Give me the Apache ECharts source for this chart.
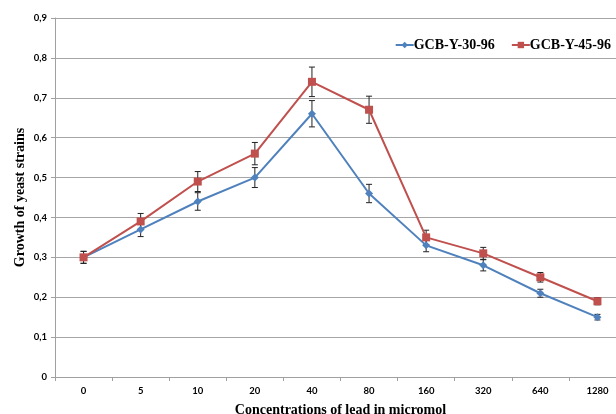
<!DOCTYPE html>
<html>
<head>
<meta charset="utf-8">
<script src="https://cdn.jsdelivr.net/npm/echarts@6/dist/echarts.min.js"></script>
<style>
  html, body { margin: 0; padding: 0; background: #fff; }
  #chart { width: 616px; height: 414px; }
</style>
</head>
<body>
<div id="chart"></div>
<script>
// Lead concentrations (micromol) on the category axis
const concentrations = ['0', '5', '10', '20', '40', '80', '160', '320', '640', '1280'];

// Yeast growth per strain
const growth3096 = [0.30, 0.37, 0.44, 0.50, 0.66, 0.46, 0.33, 0.28, 0.21, 0.15];
const growth4596 = [0.30, 0.39, 0.49, 0.56, 0.74, 0.67, 0.35, 0.31, 0.25, 0.19];

// Standard error for each measurement
const err3096 = [0.015, 0.018, 0.022, 0.025, 0.033, 0.023, 0.016, 0.014, 0.010, 0.007];
const err4596 = [0.015, 0.020, 0.025, 0.028, 0.037, 0.034, 0.018, 0.015, 0.012, 0.009];

const yTicks = [0, 0.1, 0.2, 0.3, 0.4, 0.5, 0.6, 0.7, 0.8, 0.9];

const BLUE = '#4f81bd';
const RED = '#c0504d';
const labelFont = 'Lato, "Liberation Sans", sans-serif';
const titleFont = '"Liberation Serif", "DejaVu Serif", serif';

function errorSeries(values, errors) {
  return {
    type: 'custom',
    z: 1,
    silent: true,
    data: values.map((v, i) => [i, v - errors[i], v + errors[i]]),
    renderItem: function (params, api) {
      const lo = api.coord([api.value(0), api.value(1)]);
      const hi = api.coord([api.value(0), api.value(2)]);
      const cap = 3;
      const style = { stroke: '#222', lineWidth: 1 };
      return {
        type: 'group',
        children: [
          { type: 'line', shape: { x1: lo[0], y1: lo[1], x2: hi[0], y2: hi[1] }, style },
          { type: 'line', shape: { x1: lo[0] - cap, y1: lo[1], x2: lo[0] + cap, y2: lo[1] }, style },
          { type: 'line', shape: { x1: hi[0] - cap, y1: hi[1], x2: hi[0] + cap, y2: hi[1] }, style }
        ]
      };
    }
  };
}

const chart = echarts.init(document.getElementById('chart'), null, { renderer: 'canvas' });

chart.setOption({
  animation: false,
  backgroundColor: '#fff',
  grid: { left: 55, top: 18, width: 571, height: 359, outerBoundsMode: 'none', containLabel: false },
  legend: {
    top: 33,
    right: 0,
    itemWidth: 18,
    itemHeight: 8,
    itemGap: 16,
    data: ['GCB-Y-30-96', 'GCB-Y-45-96'],
    textStyle: { fontFamily: titleFont, fontWeight: 'bold', fontSize: 14, color: '#000', padding: [0, 0, 0, -5] }
  },
  xAxis: {
    type: 'category',
    data: concentrations,
    boundaryGap: true,
    name: 'Concentrations of lead in micromol',
    nameLocation: 'middle',
    nameGap: 26,
    nameMoveOverlap: false,
    nameTextStyle: { fontFamily: titleFont, fontWeight: 'bold', fontSize: 14, color: '#000' },
    axisLine: { lineStyle: { color: '#a0a0a0', width: 1 } },
    axisTick: { show: true, length: 4, lineStyle: { color: '#a0a0a0' } },
    axisLabel: { margin: 9, fontFamily: labelFont, fontWeight: 'bold', fontSize: 9.5, color: '#000' },
    splitLine: { show: false }
  },
  yAxis: {
    type: 'value',
    min: yTicks[0],
    max: yTicks[yTicks.length - 1],
    interval: 0.1,
    name: 'Growth of yeast strains',
    nameLocation: 'middle',
    nameGap: 28,
    nameMoveOverlap: false,
    nameRotate: 90,
    nameTextStyle: { fontFamily: titleFont, fontWeight: 'bold', fontSize: 14, color: '#000' },
    axisLine: { show: true, lineStyle: { color: '#a0a0a0', width: 1 } },
    axisTick: { show: true, length: 4, lineStyle: { color: '#a0a0a0' } },
    axisLabel: {
      margin: 8,
      fontFamily: labelFont, fontWeight: 'bold', fontSize: 9.5, color: '#000',
      formatter: v => (Math.round(v * 10) / 10).toString().replace('.', ',')
    },
    splitLine: { lineStyle: { color: '#a6a6a6', width: 1 } }
  },
  series: [
    errorSeries(growth3096, err3096),
    errorSeries(growth4596, err4596),
    {
      name: 'GCB-Y-30-96',
      type: 'line',
      z: 3,
      data: growth3096,
      symbol: 'diamond',
      symbolSize: 8,
      lineStyle: { color: BLUE, width: 2 },
      itemStyle: { color: BLUE }
    },
    {
      name: 'GCB-Y-45-96',
      type: 'line',
      z: 4,
      data: growth4596,
      symbol: 'rect',
      symbolSize: 8,
      lineStyle: { color: RED, width: 2 },
      itemStyle: { color: RED }
    }
  ]
});
</script>
</body>
</html>
